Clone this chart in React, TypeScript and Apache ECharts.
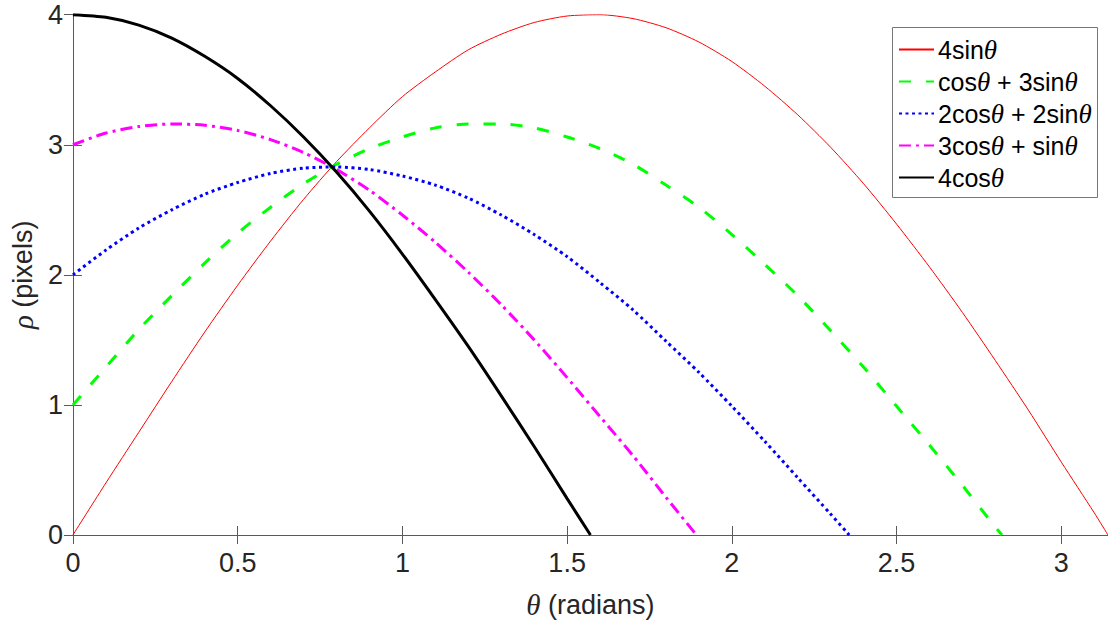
import React, { useEffect, useRef } from "react";
import * as echarts from "echarts";

// Sample angles (radians)
const THETA = [
  0, 0.1, 0.2, 0.3, 0.4, 0.5, 0.6, 0.7, 0.8, 0.9, 1.0, 1.1, 1.2, 1.3, 1.4, 1.5,
  1.6, 1.7, 1.8, 1.9, 2.0, 2.1, 2.2, 2.3, 2.4, 2.5, 2.6, 2.7, 2.8, 2.9, 3.0, 3.1,
];

// Values (ρ in pixels) at the angles above
const RHO_4SIN = [
  0, 0.4, 0.79, 1.18, 1.56, 1.92, 2.26, 2.58, 2.87, 3.13, 3.37, 3.56, 3.73, 3.85,
  3.94, 3.99, 4.0, 3.97, 3.9, 3.79, 3.64, 3.45, 3.23, 2.98, 2.7, 2.39, 2.06, 1.71,
  1.34, 0.96, 0.56, 0.17,
];
const RHO_COS_3SIN = [
  1.0, 1.29, 1.58, 1.84, 2.09, 2.32, 2.52, 2.7, 2.85, 2.97, 3.06, 3.13, 3.16, 3.16,
  3.13, 3.06, 2.97, 2.85, 2.69, 2.52, 2.31, 2.08, 1.84, 1.57, 1.29, 0.99, 0.69,
  0.38, 0.06,
];
const RHO_2COS_2SIN = [
  2.0, 2.19, 2.36, 2.5, 2.62, 2.71, 2.78, 2.82, 2.83, 2.81, 2.76, 2.69, 2.59, 2.46,
  2.31, 2.14, 1.94, 1.73, 1.49, 1.25, 0.99, 0.72, 0.44, 0.16,
];
const RHO_3COS_SIN = [
  3.0, 3.09, 3.14, 3.16, 3.15, 3.11, 3.04, 2.94, 2.81, 2.65, 2.46, 2.25, 2.02, 1.77,
  1.5, 1.21, 0.91, 0.61, 0.29,
];
const RHO_4COS = [
  4.0, 3.98, 3.92, 3.82, 3.68, 3.51, 3.3, 3.06, 2.79, 2.49, 2.16, 1.81, 1.45, 1.07,
  0.68, 0.28,
];
// Angle where each curve reaches ρ = 0
const END_THETA = [3.1416, 2.8198, 2.3562, 1.8925, 1.5708];

const NAMES = ["4sinθ", "cosθ + 3sinθ", "2cosθ + 2sinθ", "3cosθ + sinθ", "4cosθ"];
const COLORS = ["#ff0000", "#00ff00", "#0000ff", "#ff00ff", "#000000"];
const VALUES = [RHO_4SIN, RHO_COS_3SIN, RHO_2COS_2SIN, RHO_3COS_SIN, RHO_4COS];

const X_MAX = 3.14159;
const Y_TICKS = [0, 1, 2, 3, 4];

const FONT = "'Liberation Sans', Arial, Helvetica, sans-serif";
const SERIF = "'Liberation Serif', 'DejaVu Serif', serif";

export default function App() {
  const ref = useRef<HTMLDivElement>(null);

  useEffect(() => {
    if (!ref.current) return;
    const chart = echarts.init(ref.current, undefined, { renderer: "svg" });

    const lineStyles: any[] = [
      { width: 1, type: "solid" },
      { width: 3, type: [12, 15] },
      { width: 3, type: [3, 3.5] },
      { width: 3, type: [12, 5, 3, 5] },
      { width: 3, type: "solid" },
    ];

    const series = NAMES.map((name, k) => {
      const vals = VALUES[k];
      const data: number[][] = vals.map((v, i) => [THETA[i], v]);
      data.push([END_THETA[k], 0]);
      return {
        name,
        type: "line",
        data,
        symbol: "none",
        showSymbol: false,
        smooth: 0.25,
        clip: true,
        lineStyle: { color: COLORS[k], ...lineStyles[k], cap: "butt" },
        itemStyle: { color: COLORS[k] },
      };
    });

    const axisLine = { show: true, lineStyle: { color: "#5a5a5a", width: 1 } };
    const axisTick = { show: true, inside: true, length: 9, lineStyle: { color: "#5a5a5a", width: 1 } };
    const labelStyle = { color: "#262626", fontSize: 27, fontFamily: FONT };
    const xFmt = (v: number) => {
      const r = Math.round(v * 2) / 2;
      if (Math.abs(r - v) > 1e-6) return "";
      return String(r);
    };

    chart.setOption({
      animation: false,
      backgroundColor: "#ffffff",
      grid: { left: 68.5, top: 14.7, width: 1041.5, height: 521, containLabel: false },
      graphic: [
        {
          type: "rect",
          z: 3,
          silent: true,
          shape: { x: 892.5, y: 27.5, width: 205, height: 170 },
          style: { fill: "#ffffff", stroke: "#777777", lineWidth: 1 },
        },
      ],
      legend: {
        show: true,
        left: 892,
        top: 28,
        z: 5,
        orient: "vertical",
        align: "left",
        data: NAMES,
        itemWidth: 35,
        itemHeight: 25,
        itemGap: 5,
        padding: [8, 5, 5, 6],
        borderWidth: 0,
        selectedMode: false,
        itemStyle: { opacity: 0 },
        formatter: (name: string) => name.replace(/θ/g, "{i|θ}"),
        textStyle: {
          color: "#000000",
          fontSize: 25,
          lineHeight: 25,
          fontFamily: FONT,
          padding: [0, 0, 0, -1],
          rich: {
            i: { fontStyle: "italic", fontFamily: SERIF, fontSize: 27, lineHeight: 25, color: "#000000" },
          },
        },
      },
      xAxis: [
        {
          type: "value",
          min: 0,
          max: X_MAX,
          interval: 0.5,
          position: "bottom",
          axisLine,
          axisTick,
          splitLine: { show: false },
          axisLabel: { ...labelStyle, margin: 14, formatter: xFmt, showMaxLabel: false },
          name: "{i|θ} (radians)",
          nameLocation: "middle",
          nameGap: 55,
          nameTextStyle: {
            color: "#262626",
            fontSize: 27,
            fontFamily: FONT,
            rich: { i: { fontStyle: "italic", fontFamily: SERIF, fontSize: 29, color: "#262626" } },
          },
        },
        {
          type: "value",
          min: 0,
          max: X_MAX,
          interval: 0.5,
          position: "top",
          axisLine,
          axisTick,
          splitLine: { show: false },
          axisLabel: { show: false },
        },
      ],
      yAxis: [
        {
          type: "value",
          min: Y_TICKS[0],
          max: Y_TICKS[Y_TICKS.length - 1],
          interval: 1,
          position: "left",
          axisLine,
          axisTick,
          splitLine: { show: false },
          axisLabel: { ...labelStyle, margin: 10 },
          name: "{i|ρ} (pixels)",
          nameLocation: "middle",
          nameRotate: 90,
          nameGap: 28,
          nameTextStyle: {
            color: "#262626",
            fontSize: 27,
            fontFamily: FONT,
            rich: { i: { fontStyle: "italic", fontFamily: SERIF, fontSize: 29, color: "#262626" } },
          },
        },
        {
          type: "value",
          min: Y_TICKS[0],
          max: Y_TICKS[Y_TICKS.length - 1],
          interval: 1,
          position: "right",
          axisLine,
          axisTick,
          splitLine: { show: false },
          axisLabel: { show: false },
        },
      ],
      series,
    });

    return () => {
      chart.dispose();
    };
  }, []);

  return (
    <div
      ref={ref}
      style={{ position: "absolute", left: 0, top: 0, width: 1108, height: 624, background: "#fff" }}
    />
  );
}
